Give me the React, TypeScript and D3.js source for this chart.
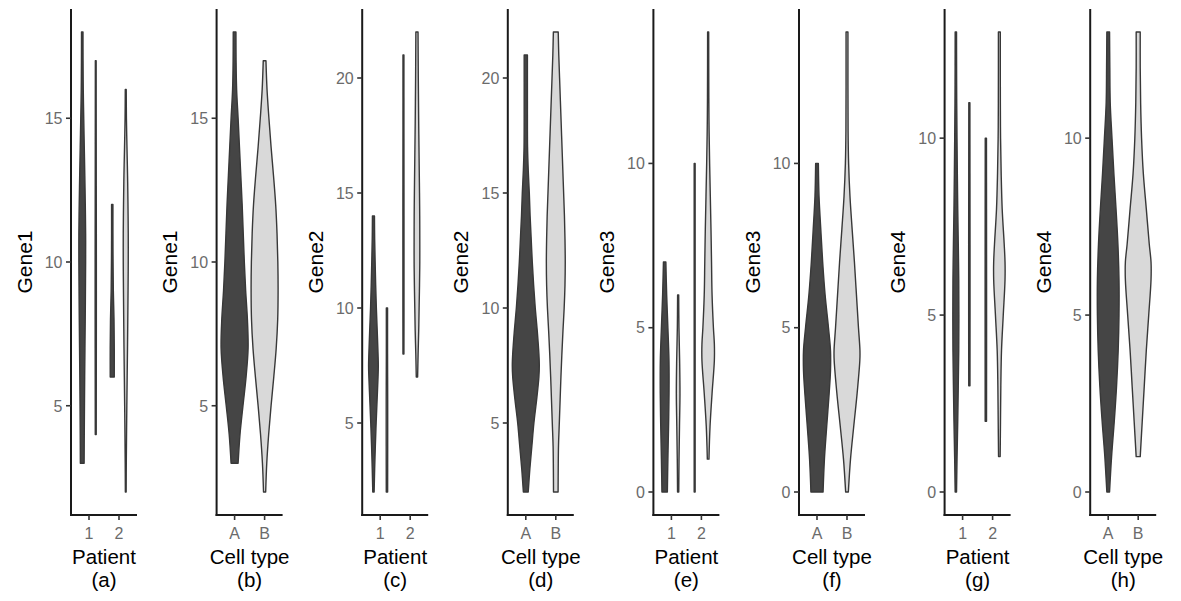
import React from "react";
import * as d3 from "d3";

// ---------- data ----------
const genes = ["Gene1", "Gene2", "Gene3", "Gene4"];
const patients = ["1", "2"];
const cellTypes = ["A", "B"];
const panelLetters = ["a", "b", "c", "d", "e", "f", "g", "h"];
const yTickValues = [
  [5, 10, 15],
  [5, 10, 15, 20],
  [0, 5, 10],
  [0, 5, 10],
];

// violin profiles: [value, scaled density (fraction of violin band)]
// Gene1 by patient
const g1_p1A = [[3,0.28],[4,0.3],[6,0.36],[8,0.44],[10,0.5],[11,0.5],[12,0.45],[13,0.38],[14,0.3],[15,0.22],[16,0.15],[17,0.12],[18,0.11]];
const g1_p1B = [[4,0.07],[6,0.08],[8,0.09],[10,0.09],[12,0.08],[14,0.07],[17,0.06]];
const g1_p2A = [[6,0.3],[7,0.3],[8,0.26],[9,0.16],[10,0.12],[11,0.1],[12,0.1]];
const g1_p2B = [[2,0.06],[3,0.08],[5,0.16],[7,0.26],[9,0.34],[10,0.37],[11,0.37],[12,0.33],[13,0.27],[14,0.18],[15,0.1],[16,0.07]];
// Gene1 by cell type
const g1_A = [[3,0.26],[4,0.4],[5,0.62],[6,0.85],[7,1.0],[8,0.95],[9,0.82],[10,0.72],[11,0.64],[12,0.56],[13,0.46],[14,0.36],[15,0.26],[16,0.15],[17,0.11],[18,0.1]];
const g1_B = [[2,0.08],[3,0.16],[4,0.3],[5,0.48],[6,0.68],[7,0.86],[8,0.97],[9,1.0],[10,0.98],[11,0.92],[12,0.82],[13,0.66],[14,0.48],[15,0.32],[16,0.18],[17,0.1]];
// Gene2 by patient
const g2_p1A = [[2,0.1],[3,0.18],[4,0.28],[5,0.4],[6,0.54],[7,0.68],[7.5,0.72],[8,0.68],[9,0.56],[10,0.43],[11,0.33],[12,0.25],[13,0.18],[14,0.15]];
const g2_p1B = [[2,0.1],[4,0.11],[6,0.11],[7,0.1],[8,0.09],[10,0.09]];
const g2_p2A = [[8,0.07],[10,0.08],[14,0.08],[18,0.07],[21,0.07]];
const g2_p2B = [[7,0.1],[8,0.17],[9,0.26],[10,0.32],[11,0.38],[12,0.42],[13,0.42],[14,0.41],[15,0.38],[16,0.34],[17,0.3],[18,0.26],[19,0.23],[20,0.2],[21,0.18],[22,0.16]];
// Gene2 by cell type
const g2_A = [[2,0.18],[3,0.3],[4,0.45],[5,0.6],[6,0.8],[7,0.97],[7.5,1.0],[8,0.97],[9,0.85],[10,0.7],[11,0.58],[12,0.48],[13,0.4],[14,0.32],[15,0.26],[16,0.18],[17,0.13],[19,0.12],[21,0.12]];
const g2_B = [[2,0.17],[3,0.18],[4,0.2],[5,0.26],[6,0.32],[7,0.38],[8,0.45],[9,0.53],[10,0.62],[11,0.68],[12,0.7],[13,0.68],[14,0.64],[15,0.58],[16,0.52],[17,0.46],[18,0.4],[19,0.34],[20,0.28],[21,0.22],[22,0.18]];
// Gene3 by patient
const g3_p1A = [[0,0.4],[1,0.48],[2,0.58],[3,0.65],[4,0.64],[5,0.48],[6,0.3],[7,0.18]];
const g3_p1B = [[0,0.09],[1,0.13],[2,0.2],[3,0.27],[4,0.22],[5,0.12],[6,0.08]];
const g3_p2A = [[0,0.07],[5,0.07],[10,0.07]];
const g3_p2B = [[1,0.12],[2,0.28],[3,0.58],[4,0.92],[4.5,0.92],[5,0.78],[6,0.58],[7,0.5],[8,0.42],[9,0.32],[10,0.22],[11,0.14],[12,0.1],[14,0.08]];
// Gene3 by cell type
const g3_A = [[0,0.45],[1,0.55],[2,0.72],[3,0.9],[3.7,1.0],[4.3,1.0],[5,0.85],[6,0.6],[7,0.42],[8,0.28],[9,0.15],[10,0.1]];
const g3_B = [[0,0.1],[1,0.26],[2,0.5],[3,0.75],[4,0.95],[4.3,0.96],[5,0.85],[6,0.7],[7,0.55],[8,0.38],[9,0.22],[10,0.12],[11,0.08],[14,0.07]];
// Gene4 by patient
const g4_p1A = [[0,0.1],[1,0.18],[2,0.28],[3,0.36],[4,0.43],[5,0.45],[6,0.43],[7,0.36],[8,0.28],[9,0.22],[10,0.17],[11,0.13],[12,0.11],[13,0.1]];
const g4_p1B = [[3,0.09],[5,0.1],[7,0.1],[9,0.09],[11,0.08]];
const g4_p2A = [[2,0.1],[5,0.11],[8,0.1],[10,0.09]];
const g4_p2B = [[1,0.12],[2,0.17],[3,0.22],[4,0.32],[5,0.58],[6,0.84],[6.5,0.84],[7,0.72],[8,0.42],[9,0.27],[10,0.18],[11,0.15],[13,0.14]];
// Gene4 by cell type
const g4_A = [[0,0.1],[1,0.25],[2,0.45],[3,0.62],[4,0.74],[5,0.8],[6,0.8],[7,0.72],[8,0.58],[9,0.42],[10,0.28],[11,0.15],[12,0.12],[13,0.1]];
const g4_B = [[1,0.15],[2,0.3],[3,0.45],[4,0.6],[5,0.78],[6,0.95],[6.5,0.95],[7,0.82],[8,0.6],[9,0.38],[10,0.25],[11,0.18],[12,0.15],[13,0.15]];

const patientViolins = [
  [[g1_p1A, g1_p1B], [g1_p2A, g1_p2B]],
  [[g2_p1A, g2_p1B], [g2_p2A, g2_p2B]],
  [[g3_p1A, g3_p1B], [g3_p2A, g3_p2B]],
  [[g4_p1A, g4_p1B], [g4_p2A, g4_p2B]],
];
const cellViolins = [
  [g1_A, g1_B],
  [g2_A, g2_B],
  [g3_A, g3_B],
  [g4_A, g4_B],
];

// ---------- layout / style ----------
const W = 1181;
const H = 601;
const firstAxisX = 71;
const panelStep = 145.6;
const plotW = 66;
const plotTop = 9;
const plotBottom = 515;
const fillColors: Record<string, string> = { A: "#454545", B: "#d9d9d9" };
const outline = "#383838";
const FONT = "'Liberation Sans', Arial, Helvetica, sans-serif";

type Profile = number[][];

function Violin({ profile, cx, halfW, y, fill }: { profile: Profile; cx: number; halfW: number; y: d3.ScaleLinear<number, number>; fill: string }) {
  const area = d3
    .area<number[]>()
    .y((d) => y(d[0]))
    .x0((d) => cx - d[1] * halfW)
    .x1((d) => cx + d[1] * halfW)
    .curve(d3.curveCatmullRom.alpha(0.5));
  return <path d={area(profile) || ""} fill={fill} stroke={outline} strokeWidth={1.4} strokeLinejoin="round" />;
}

function Panel({ index }: { index: number }) {
  const geneIdx = Math.floor(index / 2);
  const byPatient = index % 2 === 0;
  const axisX = firstAxisX + index * panelStep;
  const cats = byPatient ? patients : cellTypes;

  // y domain: full data range of this gene, expanded 5%
  const allVals = [...patientViolins[geneIdx].flat(), ...cellViolins[geneIdx]].flatMap((p) => p.map((d) => d[0]));
  const [lo, hi] = d3.extent(allVals) as [number, number];
  const pad = (hi - lo) * 0.05;
  const y = d3.scaleLinear().domain([lo - pad, hi + pad]).range([plotBottom, plotTop]);
  const x = d3.scaleLinear().domain([0.4, 2.6]).range([axisX, axisX + plotW]);
  const unit = x(1) - x(0);

  const violins: React.ReactNode[] = [];
  if (byPatient) {
    patientViolins[geneIdx].forEach((pair, pi) => {
      pair.forEach((prof, ci) => {
        const cx = x(pi + 1 + (ci === 0 ? -0.225 : 0.225));
        violins.push(
          <Violin key={`${pi}-${ci}`} profile={prof} cx={cx} halfW={0.225 * unit} y={y} fill={fillColors[cellTypes[ci]]} />
        );
      });
    });
  } else {
    cellViolins[geneIdx].forEach((prof, ci) => {
      violins.push(
        <Violin key={ci} profile={prof} cx={x(ci + 1)} halfW={0.45 * unit} y={y} fill={fillColors[cellTypes[ci]]} />
      );
    });
  }

  const midX = axisX + plotW / 2;
  return (
    <g>
      {violins}
      {/* y axis */}
      <line x1={axisX} x2={axisX} y1={plotTop} y2={plotBottom + 1} stroke="#1a1a1a" strokeWidth={2} />
      {yTickValues[geneIdx].map((t) => (
        <g key={t}>
          <line x1={axisX - 5} x2={axisX} y1={y(t)} y2={y(t)} stroke="#333" strokeWidth={1.6} />
          <text x={axisX - 8.5} y={y(t)} dy="0.36em" textAnchor="end" fontSize={16} fill="#6b6b6b" fontFamily={FONT}>
            {t}
          </text>
        </g>
      ))}
      {/* x axis */}
      <line x1={axisX - 1} x2={axisX + plotW} y1={plotBottom} y2={plotBottom} stroke="#1a1a1a" strokeWidth={2} />
      {cats.map((c, i) => (
        <g key={c}>
          <line x1={x(i + 1)} x2={x(i + 1)} y1={plotBottom} y2={plotBottom + 5} stroke="#333" strokeWidth={1.6} />
          <text x={x(i + 1)} y={533} dy="0.36em" textAnchor="middle" fontSize={16} fill="#6b6b6b" fontFamily={FONT}>
            {c}
          </text>
        </g>
      ))}
      <text x={midX} y={557} dy="0.36em" textAnchor="middle" fontSize={20.5} fill="#000" fontFamily={FONT}>
        {byPatient ? "Patient" : "Cell type"}
      </text>
      <text x={midX} y={580} dy="0.36em" textAnchor="middle" fontSize={20.5} fill="#000" fontFamily={FONT}>
        {`(${panelLetters[index]})`}
      </text>
      <text
        transform={`translate(${axisX - 47},${(plotTop + plotBottom) / 2}) rotate(-90)`}
        dy="0.36em"
        textAnchor="middle"
        fontSize={21}
        fill="#000"
        fontFamily={FONT}
      >
        {genes[geneIdx]}
      </text>
    </g>
  );
}

export default function App() {
  return (
    <svg
      width={W}
      height={H}
      viewBox={`0 0 ${W} ${H}`}
      style={{ position: "absolute", left: 0, top: 0, background: "#fff" }}
    >
      <rect width={W} height={H} fill="#fff" />
      {panelLetters.map((_, i) => (
        <Panel key={i} index={i} />
      ))}
    </svg>
  );
}
